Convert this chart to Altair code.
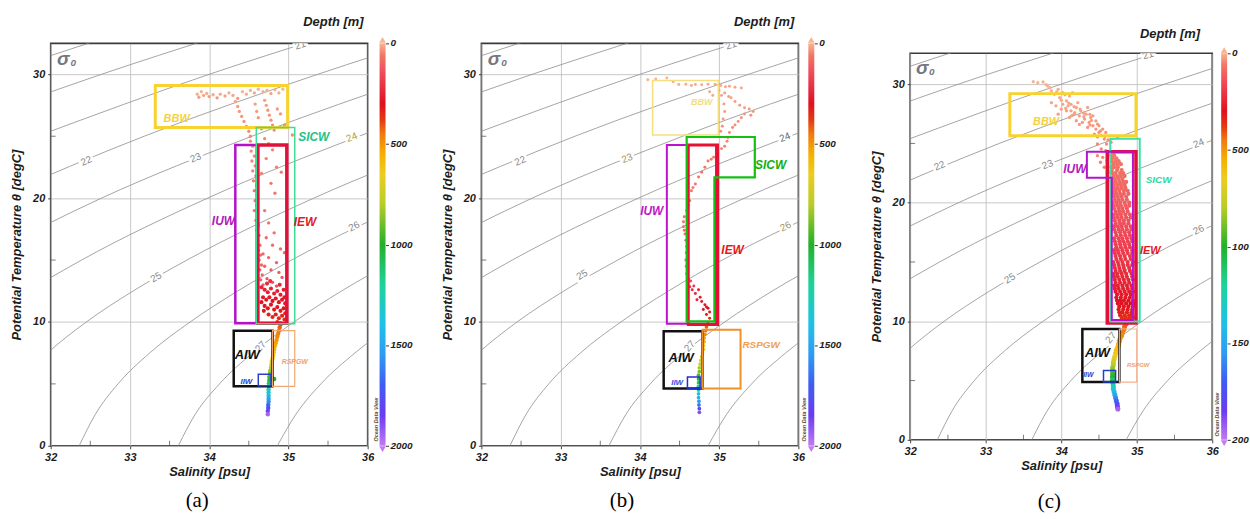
import altair as alt
import pandas as pd

FONT = "Liberation Sans"
INK = "#1c1c1c"

# ---------------- depth colour palette (Ocean Data View rainbow) ----------------
depth_stops = [0, 60, 150, 300, 380, 450, 550, 650, 800, 1000, 1200, 1400, 1550, 1700, 1850, 2000]
depth_colors = ["#f7b592", "#f27666", "#ef4a5a", "#e01020", "#e43a10", "#f07a10", "#f5b000",
                "#eccd20", "#b8cc28", "#22b02a", "#1ed39a", "#1fc0e8", "#2f9af2", "#3f5cf2",
                "#6a3cf0", "#c27af2"]
depth_ticks = [0, 500, 1000, 1500, 2000]

# ---------------- sigma-0 isopycnals (salinity at given temperatures) ----------------
iso_levels = [19, 20, 21, 22, 23, 24, 25, 26, 27, 28]
iso_temp = [
    [30, 33],
    [25, 30, 33],
    [25, 30, 33],
    [20, 25, 30, 33],
    [15, 20, 25, 30],
    [10, 12.5, 15, 20, 25, 30],
    [5, 7.5, 10, 12.5, 15, 20, 25],
    [0, 2.5, 5, 7.5, 10, 12.5, 15, 20],
    [0, 2.5, 5, 7.5, 10, 12.5, 15],
    [0, 2.5, 5, 7.5, 10],
]
iso_sal = [
    [31.28, 32.71],
    [30.47, 32.64, 34.08],
    [31.83, 34.00, 35.45],
    [31.30, 33.18, 35.37, 36.82],
    [31.07, 32.64, 34.54, 36.73],
    [31.14, 31.72, 32.39, 33.98, 35.89, 38.10],
    [31.56, 31.96, 32.45, 33.04, 33.72, 35.32, 37.25],
    [32.36, 32.56, 32.85, 33.25, 33.76, 34.36, 35.04, 36.66],
    [33.61, 33.82, 34.13, 34.55, 35.07, 35.67, 36.36],
    [34.86, 35.09, 35.41, 35.84, 36.37],
]

iso_lab_text = ["21", "22", "23", "24", "25", "26", "27"]
iso_lab_angle = [342, 337, 338, 338, 328, 334, 312]
iso_lab_sal_a = [35.15, 32.45, 33.83, 35.80, 33.33, 35.83, 34.65]
iso_lab_temp_a = [32.35, 23.0, 23.25, 24.9, 13.6, 17.7, 8.0]
iso_lab_col_a = ["#888888", "#888888", "#888888", "#a3a33a", "#888888", "#888888", "#7a80a8"]
iso_lab_sal_b = [35.15, 32.49, 33.84, 35.83, 33.27, 35.84, 34.63]
iso_lab_temp_b = [32.35, 23.0, 23.2, 24.9, 13.8, 17.7, 8.04]
iso_lab_col_b = ["#888888", "#888888", "#a8905e", "#666666", "#888888", "#a8905e", "#888888"]
iso_lab_sal_c = [35.15, 32.39, 33.82, 35.82, 33.32, 35.82, 34.66]
iso_lab_temp_c = [32.45, 23.1, 23.2, 25.0, 13.6, 17.7, 8.6]
iso_lab_col_c = ["#888888"] * 7

minor_sal = [32.5, 33.5, 34.5, 35.5]
minor_temp = [5, 15, 25]

# ---------------- station profiles: salinity, temperature, depth ----------------
# (a) upper layers
a_sal = [33.85, 33.87, 33.90, 33.93, 33.97, 34.00, 34.05, 34.10, 34.14, 34.20, 34.25, 34.30,
         34.36, 34.42, 34.47, 34.52, 34.57, 34.62, 34.68, 34.73, 34.78, 34.83, 34.88, 34.93,
         34.33, 34.36, 34.38, 34.41, 34.44, 34.47, 34.50, 34.52, 34.70, 34.72, 34.74, 34.76,
         34.78, 34.80, 34.82, 34.58, 34.60, 34.62, 34.86, 34.90, 34.95, 35.05, 34.66,
         34.52, 34.55, 34.53, 34.57, 34.54, 34.58, 34.55, 34.59, 34.56, 34.60, 34.57, 34.61,
         34.58, 34.60, 34.57, 34.61, 34.59, 34.62, 34.60, 34.63, 34.61, 34.64, 34.62, 34.65,
         34.63, 34.66, 34.64, 34.67, 34.65, 34.68,
         34.70, 34.75, 34.80, 34.72, 34.85, 34.91, 34.78, 34.83, 34.70, 34.75, 34.82, 34.72,
         34.80, 34.90, 34.95, 34.68, 34.75, 34.85, 34.70, 34.78, 34.88, 34.92, 34.73, 34.80,
         34.85, 34.66]
a_temp = [28.40, 28.15, 28.60, 28.30, 28.45, 28.20, 28.35, 28.10, 28.40, 28.25, 28.50, 28.30,
          28.05, 28.60, 28.40, 28.70, 28.50, 28.80, 28.60, 28.70, 28.45, 28.75, 28.50, 28.80,
          27.8, 27.4, 27.0, 26.6, 26.2, 25.8, 25.4, 25.0, 27.9, 27.5, 27.1, 26.7,
          26.3, 25.9, 25.5, 27.6, 27.0, 26.5, 27.2, 26.8, 25.9, 25.1, 25.6,
          24.6, 24.2, 23.8, 23.4, 23.0, 22.6, 22.2, 21.8, 21.4, 21.0, 20.6, 20.2,
          19.8, 19.4, 19.0, 18.6, 18.2, 17.8, 17.4, 17.0, 16.6, 16.2, 15.8, 15.4,
          15.0, 14.6, 14.2, 13.8, 13.4, 13.0,
          24.8, 24.4, 23.9, 23.2, 22.5, 22.1, 21.2, 20.4, 19.0, 18.0, 17.2, 16.8,
          16.2, 15.9, 15.6, 15.5, 15.2, 14.8, 14.5, 14.2, 14.0, 13.6, 13.5, 13.2,
          12.9, 22.0]
a_depth = [10, 20, 5, 15, 8, 25, 12, 30, 10, 18, 6, 14, 28, 4, 10, 5, 12, 3, 8, 6, 15, 4, 10, 2,
           20, 24, 28, 30, 34, 38, 42, 45, 20, 24, 28, 30, 34, 38, 42, 22, 26, 30, 26, 30, 36, 40, 40,
           42, 44, 45, 46, 48, 50, 52, 54, 55, 56, 58, 60, 62, 64, 65, 66, 68, 70, 72, 74, 76, 78,
           80, 84, 88, 92, 96, 100, 105, 115,
           42, 45, 48, 50, 52, 55, 58, 60, 65, 70, 78, 82, 86, 90, 95, 95, 100, 105, 110,
           115, 120, 125, 125, 135, 145, 52]
# (a) thermocline core
a_core_sal = [34.66, 34.70, 34.74, 34.78, 34.82, 34.86, 34.90, 34.94, 34.68, 34.72, 34.76, 34.80,
              34.84, 34.88, 34.92, 34.96, 34.70, 34.74, 34.78, 34.82, 34.86, 34.90, 34.94, 34.96,
              34.75, 34.80, 34.84, 34.88, 34.92, 34.95, 34.86, 34.90, 34.66, 34.69, 34.73, 34.77,
              34.89, 34.95]
a_core_temp = [12.8, 12.6, 12.4, 12.7, 12.3, 12.5, 12.2, 12.6, 12.0, 11.8, 12.0, 11.7,
               11.9, 11.6, 11.8, 11.5, 11.3, 11.1, 11.4, 11.0, 11.2, 10.9, 11.1, 10.7,
               10.6, 10.4, 10.6, 10.3, 10.5, 10.2, 10.0, 9.9, 11.6, 10.9, 13.1, 13.3,
               13.0, 12.0]
a_core_depth = [250, 255, 260, 250, 265, 255, 270, 258, 280, 285, 278, 290, 282, 295, 288, 300,
                305, 310, 300, 315, 308, 320, 312, 325, 330, 340, 335, 345, 338, 350, 360, 370,
                290, 310, 230, 220, 240, 280]
# (a) intermediate and deep water
a_deep_temp = [9.8, 9.55, 9.3, 9.05, 8.8, 8.55, 8.3, 8.05, 7.8, 7.55, 7.3, 7.05, 6.8, 6.55, 6.3,
               6.05, 5.8, 5.55, 5.3, 5.05, 4.8, 4.55, 4.3, 4.05, 3.8, 3.55, 3.3, 3.05, 2.8, 2.55, 5.5, 5.4]
a_deep_sal = [34.90, 34.89, 34.88, 34.87, 34.86, 34.85, 34.84, 34.83, 34.82, 34.815, 34.81, 34.80,
              34.79, 34.785, 34.78, 34.77, 34.765, 34.76, 34.76, 34.755, 34.755, 34.75, 34.75, 34.75,
              34.75, 34.75, 34.745, 34.745, 34.74, 34.74, 34.79, 34.82]
a_deep_depth = [400, 420, 440, 460, 480, 500, 520, 545, 570, 600, 630, 660, 700, 740, 790, 840, 900,
                960, 1030, 1100, 1180, 1260, 1340, 1420, 1500, 1580, 1670, 1760, 1860, 1950, 980, 1000]

# (b)
b_sal = [34.10, 34.20, 34.34, 34.42, 34.49, 34.58, 34.65, 34.70, 34.78, 34.86, 34.95, 35.02, 35.08,
         35.13, 35.20, 35.28,
         35.07, 35.12, 35.15, 35.20, 35.26, 35.32, 35.38, 35.43, 35.40, 35.32, 35.28, 35.24, 35.20,
         35.17, 35.13, 35.11, 35.10, 35.07, 35.03, 34.97, 34.93, 34.90, 34.86, 34.82, 34.78, 34.74,
         34.70, 34.67, 34.65, 34.63, 34.61, 34.59, 34.56, 34.55, 34.55, 34.56, 34.57, 34.58, 34.59,
         34.585, 34.58, 34.585, 34.59, 34.61,
         35.00, 35.03, 35.06, 35.07, 35.05, 35.04, 35.02, 34.88, 34.92,
         34.63, 34.66, 34.70, 34.74, 34.72, 34.76, 34.78, 34.82, 34.80, 34.84, 34.86, 34.84, 34.88,
         34.88, 34.86, 34.64, 34.68]
b_temp = [29.57, 29.62, 29.70, 29.40, 29.17, 29.20, 29.10, 29.17, 29.15, 29.20, 29.17, 29.10, 29.00,
          29.03, 28.95, 28.90,
          28.5, 28.2, 28.1, 27.8, 27.5, 27.3, 27.2, 27.0, 26.7, 26.8, 26.5, 26.2, 25.9,
          25.7, 25.3, 24.9, 24.6, 24.2, 24.0, 23.55, 23.3, 23.15, 23.0, 22.5, 22.1, 21.7,
          21.15, 20.85, 20.6, 19.8, 19.4, 19.0, 18.5, 18.1, 17.7, 17.4, 17.1, 16.6, 16.1,
          15.6, 15.0, 14.5, 13.9, 13.4,
          28.7, 28.3, 27.6, 27.0, 26.4, 25.8, 25.4, 28.6, 28.3,
          12.85, 12.6, 12.3, 12.6, 11.8, 12.0, 11.65, 11.4, 11.0, 11.2, 11.1, 10.6, 10.8,
          10.3, 9.9, 13.3, 12.9]
b_depth = [5, 5, 3, 8, 10, 8, 10, 10, 8, 10, 12, 10, 12, 12, 14, 14,
           18, 20, 20, 22, 24, 26, 28, 30, 32, 30, 34, 36, 38, 40, 42, 44, 46, 48, 50, 52, 54, 56,
           58, 60, 62, 64, 66, 68, 70, 72, 74, 76, 78, 80, 82, 84, 86, 88, 90, 92, 94, 96, 100, 110,
           15, 18, 20, 24, 28, 32, 35, 12, 15,
           200, 220, 240, 250, 260, 265, 270, 280, 290, 295, 300, 310, 315, 330, 360, 160, 190]
b_deep_temp = [9.6, 9.3, 9.0, 8.7, 8.4, 8.1, 7.8, 7.5, 7.2, 6.9, 6.6, 6.3, 6.0, 5.7, 5.4, 5.1,
               4.8, 4.5, 4.2, 3.9, 3.6, 3.3, 3.0, 2.7]
b_deep_sal = [34.84, 34.83, 34.82, 34.81, 34.81, 34.80, 34.80, 34.79, 34.78, 34.77, 34.76, 34.75,
              34.75, 34.74, 34.74, 34.74, 34.74, 34.74, 34.74, 34.74, 34.745, 34.745, 34.75, 34.75]
b_deep_depth = [420, 450, 480, 510, 540, 570, 600, 640, 680, 720, 770, 820, 880, 950, 1020, 1100,
                1180, 1270, 1360, 1450, 1550, 1650, 1780, 1900]

# (c) surface layer
c_sal = [33.63, 33.69, 33.76, 33.82, 33.87, 33.91, 33.96, 33.98, 34.02, 34.07, 34.11, 34.13, 33.87,
         33.93, 34.00, 34.07, 34.13, 34.20, 34.17, 34.24, 34.26, 34.31, 34.33, 34.37, 34.39, 34.42,
         34.46, 34.48, 34.50, 34.53, 34.57, 34.09, 34.22, 34.35, 34.28, 34.44, 34.15, 34.02, 33.96,
         34.11, 34.20, 34.35, 34.42, 34.55, 34.59,
         33.80, 33.85, 33.94, 34.05, 34.00, 34.10, 34.17, 34.25, 34.18, 34.30, 34.38, 34.30, 34.40,
         34.46, 34.50, 34.38, 34.52, 34.58, 34.48, 34.62, 34.06, 34.14, 34.24,
         34.48, 34.53, 34.48, 34.55, 34.52, 34.59, 34.61, 34.57, 34.64, 34.60, 34.66]
c_temp = [30.21, 30.12, 30.18, 29.84, 29.42, 29.14, 29.56, 28.86, 29.28, 28.58, 29.00, 28.30, 28.44,
          28.17, 27.89, 27.75, 27.75, 28.03, 27.47, 27.33, 27.75, 27.05, 27.47, 26.77, 27.19, 26.49,
          26.21, 26.63, 25.93, 25.65, 25.37, 28.17, 28.44, 28.03, 26.77, 25.79, 29.28, 28.30, 27.47,
          27.19, 26.91, 26.35, 27.33, 26.21, 25.93,
          29.95, 29.70, 29.35, 29.10, 28.65, 28.40, 28.10, 27.90, 27.60, 27.55, 27.45, 27.25, 26.95,
          26.90, 26.50, 26.55, 26.05, 25.60, 25.55, 25.30, 27.95, 27.35, 26.60,
          24.95, 24.53, 23.97, 23.83, 23.41, 24.39, 23.55, 22.99, 22.57, 24.95, 25.09]
c_depth = [2, 3, 2, 4, 6, 8, 5, 10, 7, 12, 9, 14, 13, 15, 17, 18, 18, 16, 20, 21, 18, 24, 20, 26,
           23, 28, 30, 27, 32, 34, 36, 15, 13, 16, 26, 33, 7, 14, 20, 23, 25, 30, 21, 30, 32,
           3, 4, 6, 8, 11, 13, 15, 16, 19, 19, 21, 22, 25, 25, 28, 27, 31, 34, 34, 37, 16, 20, 26,
           40, 42, 45, 46, 48, 44, 48, 50, 55, 40, 38]
# dense thermocline column of (c): one temperature level per row
c_col_temp = [24.0, 23.5, 23.0, 22.5, 22.0, 21.5, 21.0, 20.5, 20.0, 19.5, 19.0, 18.5, 18.0, 17.5,
              17.0, 16.5, 16.0, 15.5, 15.0, 14.5, 14.0, 13.5, 13.0, 12.5, 12.0, 11.5, 11.0, 10.5, 10.1,
              23.75, 23.25, 22.75, 22.25, 21.75, 21.25, 20.75, 20.25, 19.75, 19.25, 18.75, 18.25,
              17.75, 17.25, 16.75, 16.25, 15.75, 15.25, 14.75, 14.25, 13.75, 13.25, 12.75, 12.25,
              11.75, 11.25, 10.75, 10.3]
c_col_depth = [60, 65, 70, 75, 80, 88, 95, 100, 110, 118, 125, 135, 145, 155, 165, 175, 185, 195,
               205, 215, 228, 240, 255, 270, 285, 300, 320, 340, 370,
               62, 68, 72, 78, 84, 92, 98, 105, 114, 122, 130, 140, 150, 160, 170, 180, 190, 200,
               210, 222, 234, 248, 262, 278, 292, 310, 330, 355]
c_col_sal = [
    [34.66, 34.70], [34.67, 34.72, 34.76], [34.66, 34.70, 34.75], [34.68, 34.72, 34.78, 34.82],
    [34.67, 34.71, 34.76, 34.81], [34.69, 34.74, 34.79, 34.84], [34.68, 34.72, 34.77, 34.83, 34.88],
    [34.70, 34.75, 34.80, 34.86], [34.68, 34.73, 34.78, 34.84, 34.90], [34.70, 34.76, 34.81, 34.87],
    [34.69, 34.74, 34.79, 34.85, 34.91], [34.71, 34.77, 34.83, 34.89],
    [34.70, 34.75, 34.80, 34.86, 34.92], [34.72, 34.78, 34.84, 34.90],
    [34.70, 34.76, 34.81, 34.87, 34.93], [34.72, 34.78, 34.84, 34.90],
    [34.70, 34.75, 34.81, 34.87, 34.94], [34.72, 34.78, 34.84, 34.91],
    [34.69, 34.75, 34.81, 34.88, 34.95], [34.71, 34.77, 34.83, 34.90],
    [34.69, 34.74, 34.80, 34.86, 34.93], [34.71, 34.77, 34.83, 34.89, 34.95],
    [34.70, 34.75, 34.81, 34.87, 34.93], [34.72, 34.78, 34.84, 34.90, 34.95],
    [34.73, 34.79, 34.85, 34.91], [34.75, 34.80, 34.86, 34.92, 34.96],
    [34.76, 34.82, 34.88, 34.94], [34.78, 34.84, 34.90, 34.94], [34.82, 34.87, 34.92],
    [34.68, 34.73], [34.69, 34.74, 34.79], [34.67, 34.74, 34.80], [34.69, 34.74, 34.79, 34.84],
    [34.68, 34.72, 34.77, 34.82, 34.86], [34.70, 34.75, 34.80, 34.85],
    [34.69, 34.73, 34.78, 34.83, 34.89], [34.71, 34.76, 34.81, 34.87],
    [34.69, 34.74, 34.79, 34.85, 34.90], [34.72, 34.77, 34.82, 34.88],
    [34.70, 34.75, 34.80, 34.86, 34.92], [34.72, 34.78, 34.83, 34.89],
    [34.70, 34.76, 34.81, 34.87, 34.93], [34.73, 34.79, 34.85, 34.91],
    [34.71, 34.77, 34.82, 34.88, 34.94], [34.73, 34.79, 34.85, 34.91],
    [34.71, 34.76, 34.82, 34.88, 34.94], [34.73, 34.79, 34.85, 34.92],
    [34.70, 34.76, 34.82, 34.88, 34.94], [34.72, 34.78, 34.84, 34.91],
    [34.70, 34.75, 34.81, 34.87, 34.94], [34.72, 34.78, 34.84, 34.90],
    [34.71, 34.76, 34.82, 34.88, 34.94], [34.74, 34.80, 34.86, 34.92],
    [34.74, 34.78, 34.83, 34.89, 34.95], [34.77, 34.83, 34.89, 34.95],
    [34.77, 34.81, 34.87, 34.93], [34.80, 34.85, 34.90, 34.95],
]
c_deep_temp = [9.8, 9.55, 9.3, 9.05, 8.8, 8.55, 8.3, 8.05, 7.8, 7.55, 7.3, 7.05, 6.8, 6.55, 6.3,
               6.05, 5.8, 5.55, 5.3, 5.05, 4.8, 4.55, 4.3, 4.05, 3.8, 3.55, 3.3, 3.05, 2.8, 2.6]
c_deep_sal = [34.86, 34.84, 34.83, 34.81, 34.80, 34.78, 34.77, 34.76, 34.75, 34.73, 34.72, 34.71,
              34.70, 34.69, 34.69, 34.68, 34.68, 34.68, 34.68, 34.68, 34.685, 34.69, 34.69, 34.70,
              34.71, 34.72, 34.73, 34.74, 34.745, 34.75]
c_deep_depth = [400, 420, 440, 460, 480, 500, 520, 545, 570, 600, 630, 660, 700, 740, 790, 840, 900,
                960, 1030, 1100, 1180, 1260, 1340, 1420, 1500, 1580, 1670, 1760, 1860, 1950]

# ---------------- water-mass boxes ----------------
box_a_name = ["BBW", "IUW", "IEW", "SICW", "AIW", "RSPGW", "IIW"]
box_a_sal = [(33.32, 34.99), (34.33, 34.60), (34.615, 34.98), (34.595, 35.08), (34.31, 34.80),
             (34.80, 35.08), (34.62, 34.78)]
box_a_temp = [(25.7, 29.1), (9.9, 24.3), (9.9, 24.3), (9.86, 25.7), (4.8, 9.3), (4.8, 9.3),
              (4.84, 5.77)]
box_a_col = ["#f8d22e", "#b312c8", "#e0113a", "#3ddc97", "#111111", "#f4a870", "#2a3fd0"]
box_a_w = [3, 2.5, 3.5, 1.5, 2.5, 1.2, 1.5]

box_b_name = ["BBW", "IUW", "IEW", "AIW", "RSPGW", "IIW"]
box_b_sal = [(34.16, 34.99), (34.34, 34.96), (34.61, 34.98), (34.30, 34.79), (34.79, 35.27),
             (34.60, 34.76)]
box_b_temp = [(25.1, 29.5), (9.86, 24.3), (9.8, 24.3), (4.63, 9.25), (4.63, 9.38), (4.63, 5.56)]
box_b_col = ["#f5de7e", "#c010d0", "#e81030", "#111111", "#f0902a", "#2030d0"]
box_b_w = [1.5, 2, 3, 2.5, 2, 1.5]
sicw_b_sal = [34.59, 35.45, 35.45, 34.94, 34.94, 34.59, 34.59]
sicw_b_temp = [24.94, 24.94, 21.68, 21.68, 10.05, 10.05, 24.94]

box_c_name = ["BBW", "IEW", "SICW", "AIW", "RSPGW", "IIW"]
box_c_sal = [(33.32, 34.99), (34.61, 34.99), (34.65, 35.04), (34.28, 34.77), (34.77, 35.00),
             (34.56, 34.72)]
box_c_temp = [(25.65, 29.2), (9.85, 24.3), (9.98, 25.4), (4.87, 9.35), (4.87, 9.35), (4.87, 5.85)]
box_c_col = ["#f8d22e", "#e0103a", "#3ee0a8", "#111111", "#f5b090", "#2040d0"]
box_c_w = [3, 3.5, 2, 2.5, 1.2, 1.5]
iuw_c_sal = [34.34, 34.95, 34.95, 34.67, 34.67, 34.34, 34.34]
iuw_c_temp = [24.3, 24.3, 10.1, 10.1, 22.1, 22.1, 24.3]

# box captions: text, salinity, temperature, colour, font size
lab_a = [("BBW", 33.59, 26.4, "#f5d23a", 11), ("SICW", 35.32, 24.9, "#22c389", 12),
         ("IUW", 34.18, 18.15, "#b01ac0", 12), ("IEW", 35.21, 18.05, "#e02020", 12),
         ("AIW", 34.48, 7.3, "#111111", 13), ("RSPGW", 35.08, 6.75, "#f0a070", 7),
         ("IIW", 34.47, 5.16, "#2a3fd0", 8)]
lab_b = [("BBW", 34.78, 27.8, "#f3dc80", 9), ("SICW", 35.65, 22.7, "#10b010", 12),
         ("IUW", 34.15, 18.95, "#c018c8", 12), ("IEW", 35.17, 15.85, "#e81818", 12),
         ("AIW", 34.52, 7.1, "#111111", 13), ("RSPGW", 35.53, 8.1, "#f0a050", 10),
         ("IIW", 34.47, 5.1, "#3050e0", 8)]
lab_c = [("BBW", 33.80, 26.8, "#f5d23a", 11), ("SICW", 35.29, 21.95, "#30d8a0", 10),
         ("IUW", 34.18, 22.85, "#b01ac0", 12), ("IEW", 35.18, 15.9, "#e02020", 11),
         ("AIW", 34.48, 7.3, "#111111", 13), ("RSPGW", 35.02, 6.27, "#f0a070", 6),
         ("IIW", 34.36, 5.43, "#2a3fd0", 7)]


def rect_outline(s, t):
    return [s[0], s[1], s[1], s[0], s[0]], [t[0], t[0], t[1], t[1], t[0]]


def outline_table(names, sals, temps, cols, widths, extra=()):
    rows = []
    items = [(n, *rect_outline(s, t), c, w) for n, s, t, c, w in zip(names, sals, temps, cols, widths)]
    items += list(extra)
    for name, ss, tt, col, w in items:
        for k, (s, t) in enumerate(zip(ss, tt)):
            rows.append({"box": name, "k": k, "S": s, "T": t, "col": col, "w": w})
    return pd.DataFrame(rows)


def point_table(groups):
    rows = []
    for sal, temp, dep, sz in groups:
        for s, t, d in zip(sal, temp, dep):
            rows.append({"S": s, "T": t, "D": d, "sz": sz})
    return pd.DataFrame(rows)


iso_df = pd.DataFrame([{"lev": lev, "S": s, "T": t}
                       for lev, ss, tt in zip(iso_levels, iso_sal, iso_temp)
                       for s, t in zip(ss, tt)])

color_scale = alt.Scale(domain=depth_stops, range=depth_colors, interpolate="rgb", clamp=True)
gradient = alt.LinearGradient(
    gradient="linear", x1=0, x2=0, y1=0, y2=1,
    stops=[alt.GradientStop(offset=d / 2000, color=c) for d, c in zip(depth_stops, depth_colors)])


def panel(points, boxes, captions, lab_sal, lab_temp, lab_col, width, height, t_max,
          bar_left, axis_offset, title_x, title_y, letter, letter_dx, letter_offset, label_limit):
    xs = alt.Scale(domain=[32, 36], nice=False, zero=False)
    ys = alt.Scale(domain=[0, t_max], nice=False, zero=False)
    x_axis = alt.Axis(values=[32, 33, 34, 35, 36], format="d", grid=True, gridColor="#b9b9b9",
                      gridWidth=0.8, domain=False, tickSize=3, tickColor="#444", labelPadding=3,
                      labelFontSize=11, labelFlush=False, title="Salinity [psu]", titleFontSize=13,
                      titlePadding=3)
    y_axis = alt.Axis(values=[0, 10, 20, 30], format="d", grid=True, gridColor="#b9b9b9",
                      gridWidth=0.8, domain=False, tickSize=3, tickColor="#444", labelPadding=3,
                      labelFontSize=11, title="Potential Temperature θ [degC]", titleFontSize=13,
                      titlePadding=9)
    X = alt.X("S:Q", scale=xs, axis=x_axis)
    Y = alt.Y("T:Q", scale=ys, axis=y_axis)

    iso = alt.Chart(iso_df).mark_line(color="#8e8e8e", strokeWidth=0.8, interpolate="monotone",
                                      clip=True).encode(x=X, y=Y, detail="lev:N")
    lab_df = pd.DataFrame({"S": lab_sal, "T": lab_temp, "txt": iso_lab_text,
                           "ang": iso_lab_angle, "col": lab_col})
    halo = alt.Chart(lab_df).mark_text(font=FONT, fontSize=10, fill="white", stroke="white",
                                       strokeWidth=5, clip=True).encode(
        x=X, y=Y, text="txt:N", angle=alt.Angle("ang:Q", scale=None))
    labs = alt.Chart(lab_df).mark_text(font=FONT, fontSize=10, clip=True).encode(
        x=X, y=Y, text="txt:N", angle=alt.Angle("ang:Q", scale=None),
        fill=alt.Fill("col:N", scale=None))

    tx = alt.Chart(pd.DataFrame({"S": minor_sal, "T": [0] * len(minor_sal)})).mark_tick(
        orient="vertical", size=5, thickness=1, color="#444", yOffset=-2.5).encode(x=X, y=Y)
    ty = alt.Chart(pd.DataFrame({"S": [32] * len(minor_temp), "T": minor_temp})).mark_tick(
        orient="horizontal", size=5, thickness=1, color="#444", xOffset=2.5).encode(x=X, y=Y)

    pts = alt.Chart(points).mark_circle(opacity=1).encode(
        x=X, y=Y, color=alt.Color("D:Q", scale=color_scale, legend=None),
        size=alt.Size("sz:Q", scale=None))

    frames = alt.Chart(boxes).mark_line(strokeJoin="miter", strokeCap="square").encode(
        x=X, y=Y, detail="box:N", order="k:Q",
        stroke=alt.Stroke("col:N", scale=None), strokeWidth=alt.StrokeWidth("w:Q", scale=None))

    cap_df = pd.DataFrame(captions, columns=["txt", "S", "T", "col", "fs"])
    caps = alt.Chart(cap_df).mark_text(font=FONT, fontWeight="bold", fontStyle="italic").encode(
        x=X, y=Y, text="txt:N", fill=alt.Fill("col:N", scale=None), size=alt.Size("fs:Q", scale=None))

    sig_df = pd.DataFrame({"txt": ["σ", "0"], "S": [32.16, 32.285], "T": [t_max - 1.25, t_max - 1.6],
                           "fs": [19, 10]})
    sig = alt.Chart(sig_df).mark_text(font=FONT, fontWeight="bold", fontStyle="italic",
                                      color="#76767e").encode(
        x=X, y=Y, text="txt:N", size=alt.Size("fs:Q", scale=None))

    main = alt.layer(iso, halo, labs, tx, ty, pts, frames, caps, sig)

    # colour bar with arrow ends, drawn against its own depth axis
    ds = alt.Scale(domain=[0, 2000], reverse=True, nice=False, zero=False)
    d_axis = alt.Axis(orient="right", values=depth_ticks, offset=axis_offset, labels=False,
                      domain=False, grid=False, tickSize=3, tickColor="#333", title="Depth [m]",
                      titleFontSize=13, titleAngle=0, titleX=title_x, titleY=title_y,
                      titleAlign="center", titleBaseline="middle")
    DY = alt.Y("D:Q", scale=ds, axis=d_axis)
    bar = alt.Chart(pd.DataFrame({"D": [0], "D2": [2000]})).mark_rect(color=gradient).encode(
        x=alt.value(bar_left), x2=alt.value(bar_left + 6), y=DY, y2="D2:Q")
    up = alt.Chart(pd.DataFrame({"D": [-17]})).mark_point(
        shape="triangle-up", filled=True, size=45, opacity=1, color=depth_colors[0]).encode(
        x=alt.value(bar_left + 3), y=DY)
    down = alt.Chart(pd.DataFrame({"D": [2017]})).mark_point(
        shape="triangle-down", filled=True, size=45, opacity=1, color=depth_colors[-1]).encode(
        x=alt.value(bar_left + 3), y=DY)
    ticks_txt = alt.Chart(pd.DataFrame({"D": depth_ticks, "txt": [str(v) for v in depth_ticks]})).mark_text(
        font=FONT, fontSize=10, fontWeight="bold", fontStyle="italic", color=INK, align="left",
        baseline="middle", limit=label_limit, ellipsis="\u200b").encode(
        x=alt.value(bar_left + 11), y=DY, text="txt:N")
    odv = alt.Chart(pd.DataFrame({"D": [1870], "txt": ["Ocean Data View"]})).mark_text(
        font=FONT, fontSize=5.5, fontWeight="bold", fontStyle="italic", angle=270,
        color="#5a4a3a").encode(x=alt.value(bar_left - 4), y=DY, text="txt:N")
    cbar = alt.layer(bar, up, down, ticks_txt, odv)

    return alt.layer(main, cbar).resolve_scale(y="independent").properties(
        width=width, height=height,
        title=alt.TitleParams(letter, orient="bottom", anchor="middle", frame="group",
                              font="Liberation Serif", fontSize=21, fontWeight="normal",
                              color="black", offset=letter_offset, dx=letter_dx))


pts_a = point_table([(a_sal, a_temp, a_depth, 11), (a_core_sal, a_core_temp, a_core_depth, 17),
                     (a_deep_sal, a_deep_temp, a_deep_depth, 20)])
pts_b = point_table([(b_sal, b_temp, b_depth, 9), (b_deep_sal, b_deep_temp, b_deep_depth, 14)])
col_sal, col_temp, col_depth = [], [], []
for t, d, row in zip(c_col_temp, c_col_depth, c_col_sal):
    for s in row:
        col_sal.append(s)
        col_temp.append(t)
        col_depth.append(d)
pts_c = point_table([(c_sal, c_temp, c_depth, 11), (col_sal, col_temp, col_depth, 18),
                     (c_deep_sal, c_deep_temp, c_deep_depth, 26)])

boxes_a = outline_table(box_a_name, box_a_sal, box_a_temp, box_a_col, box_a_w)
boxes_b = outline_table(box_b_name, box_b_sal, box_b_temp, box_b_col, box_b_w,
                        extra=[("SICW", sicw_b_sal, sicw_b_temp, "#14c014", 2.2)])
boxes_c = outline_table(box_c_name, box_c_sal, box_c_temp, box_c_col, box_c_w,
                        extra=[("IUW", iuw_c_sal, iuw_c_temp, "#b513d0", 2)])

panel_a = panel(pts_a, boxes_a, lab_a, iso_lab_sal_a, iso_lab_temp_a, iso_lab_col_a,
                319, 405, 32.5, 331, 18, -53, -22, "(a)", -12, 12, 40)
panel_b = panel(pts_b, boxes_b, lab_b, iso_lab_sal_b, iso_lab_temp_b, iso_lab_col_b,
                319, 405, 32.5, 329, 16, -51, -22, "(b)", -18, 12, 40)
panel_c = panel(pts_c, boxes_c, lab_c, iso_lab_sal_c, iso_lab_temp_c, iso_lab_col_c,
                304, 389, 32.6, 313, 15, -58, -20, "(c)", -12, 19, 17)

# (c) sits a little lower than the other two panels
spacer = alt.Chart(pd.DataFrame({"v": [0]})).mark_point(opacity=0).properties(
    width=10, height=10, view=alt.ViewBackground(strokeOpacity=0))
column_c = alt.vconcat(spacer, panel_c, spacing=0, bounds="flush")

chart = alt.hconcat(panel_a, panel_b, column_c, spacing=25.5).properties(
    padding={"left": 9, "top": 13, "right": 0, "bottom": 0}
).configure(background="white").configure_view(stroke="#3a3a3a", strokeWidth=1.6).configure_axis(
    labelFont=FONT, labelFontWeight="bold", labelFontStyle="italic", labelColor=INK,
    titleFont=FONT, titleFontWeight="bold", titleFontStyle="italic", titleColor=INK)

chart.save("out.html", embed_options={"renderer": "svg", "actions": False})
